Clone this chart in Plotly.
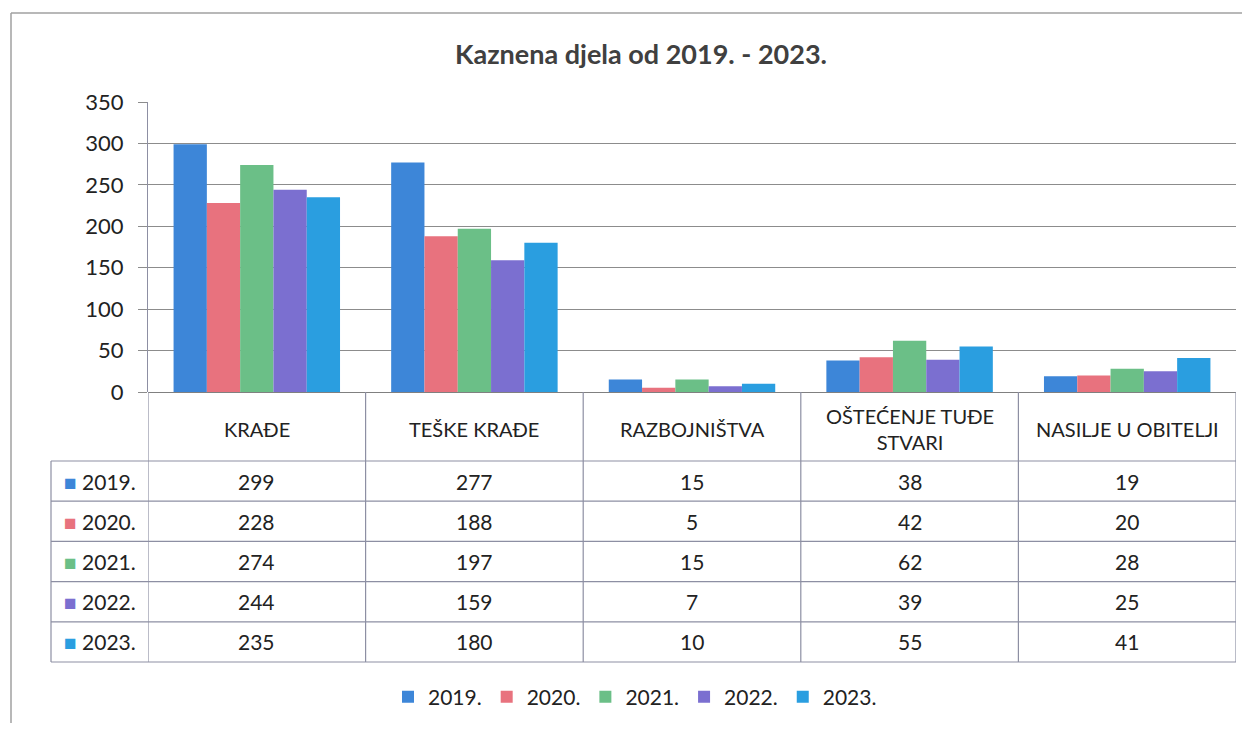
import plotly.graph_objects as go

# ---------------- data ----------------
categories = ["KRAĐE", "TEŠKE KRAĐE", "RAZBOJNIŠTVA", "OŠTEĆENJE TUĐE<br>STVARI", "NASILJE U OBITELJI"]
years = ["2019.", "2020.", "2021.", "2022.", "2023."]
v2019 = [299, 277, 15, 38, 19]
v2020 = [228, 188, 5, 42, 20]
v2021 = [274, 197, 15, 62, 28]
v2022 = [244, 159, 7, 39, 25]
v2023 = [235, 180, 10, 55, 41]
series = [v2019, v2020, v2021, v2022, v2023]
colors = ["#3d86d8", "#e8727e", "#6bbf87", "#7b6fd0", "#2a9ee0"]
y_ticks = [0, 50, 100, 150, 200, 250, 300, 350]

# ---------------- layout geometry (reference-page pixels) ----------------
OFF = 8                       # default body margin of the html page
W, H = 1250 - 2 * OFF, 731 - 2 * OFF
PL, PR, PT, PB = 148, 1236, 102, 392   # plot area in page pixels
FONT = "Lato, Carlito, 'Open Sans', sans-serif"
TXT = "#222222"
LINE = "#8d8fa3"

def px2x(px):
    return (px - PL) / (PR - PL)

def py2y(py):
    return (PB - py) / (PB - PT)

fig = go.Figure()
for yr, vals, col in zip(years, series, colors):
    fig.add_trace(go.Bar(x=categories, y=vals, name=yr, marker=dict(color=col, line=dict(width=0)),
                         hoverinfo="x+y+name"))

shapes = []
annotations = []

# table geometry
header_top = PB
header_bot = 461
row_h = 40.2
row_lines = [header_bot + i * row_h for i in range(len(years) + 1)]
label_left = 51

for ry in row_lines:
    shapes.append(dict(type="line", xref="paper", yref="paper", x0=px2x(label_left), x1=1,
                       y0=py2y(ry), y1=py2y(ry), line=dict(color=LINE, width=1.2)))
n = len(categories)
for i in range(n + 1):
    shapes.append(dict(type="line", xref="x", yref="paper", x0=i - 0.5, x1=i - 0.5,
                       y0=py2y(row_lines[-1]), y1=py2y(header_top), line=dict(color=LINE, width=1.2)))
shapes.append(dict(type="line", xref="paper", yref="paper", x0=px2x(label_left), x1=px2x(label_left),
                   y0=py2y(row_lines[-1]), y1=py2y(header_bot), line=dict(color=LINE, width=1.2)))

for i, c in enumerate(categories):
    annotations.append(dict(xref="x", yref="paper", x=i, y=py2y((header_top + header_bot) / 2 + 2),
                            text=c, showarrow=False, font=dict(family=FONT, size=20, color=TXT),
                            xanchor="center", yanchor="middle"))
for r, (yr, vals, col) in enumerate(zip(years, series, colors)):
    yc = py2y(row_lines[r] + row_h / 2)
    annotations.append(dict(xref="paper", yref="paper", x=px2x(label_left + 11), y=yc,
                            text=f"<span style='color:{col}'>■</span> {yr}", showarrow=False,
                            font=dict(family=FONT, size=21, color=TXT), xanchor="left", yanchor="middle"))
    for i, v in enumerate(vals):
        annotations.append(dict(xref="x", yref="paper", x=i, y=yc, text=str(v), showarrow=False,
                                font=dict(family=FONT, size=21, color=TXT), xanchor="center", yanchor="middle"))

annotations.append(dict(xref="paper", yref="paper", x=px2x(641), y=py2y(54),
                        text="<b>Kaznena djela od 2019. - 2023.</b>", showarrow=False,
                        font=dict(family=FONT, size=27, color="#404040"), xanchor="center", yanchor="middle"))

# scanned frame: top and left edges
shapes.append(dict(type="line", xref="paper", yref="paper", x0=px2x(11), x1=px2x(1260),
                   y0=py2y(13), y1=py2y(13), line=dict(color="#a0a0a0", width=1.5)))
shapes.append(dict(type="line", xref="paper", yref="paper", x0=px2x(11), x1=px2x(11),
                   y0=py2y(13), y1=py2y(760), line=dict(color="#a0a0a0", width=1.5)))

fig.update_layout(
    width=W, height=H,
    margin=dict(l=PL - OFF, r=W - (PR - OFF), t=PT - OFF, b=H - (PB - OFF), pad=0),
    paper_bgcolor="white", plot_bgcolor="white",
    barmode="group", bargap=0.235, bargroupgap=0,
    showlegend=True,
    legend=dict(orientation="h", x=px2x(635), xanchor="center", y=py2y(697), yanchor="middle",
                font=dict(family=FONT, size=21, color=TXT), itemwidth=30, traceorder="normal"),
    font=dict(family=FONT, color=TXT),
    shapes=shapes, annotations=annotations,
)
fig.update_xaxes(showticklabels=False, showgrid=False, showline=False, zeroline=False,
                 range=[-0.5, n - 0.5], fixedrange=True)
fig.update_yaxes(range=[0, 350], tickvals=y_ticks, showgrid=True, gridcolor="#8c8c8c", gridwidth=1.2,
                 zeroline=True, zerolinecolor="#808080", zerolinewidth=1.2,
                 showline=True, linecolor=LINE, linewidth=1.2,
                 ticks="outside", ticklen=9, tickcolor="#8c8c8c",
                 tickfont=dict(family=FONT, size=22, color=TXT), ticklabelstandoff=10, fixedrange=True)

fig.write_html("out.html")
